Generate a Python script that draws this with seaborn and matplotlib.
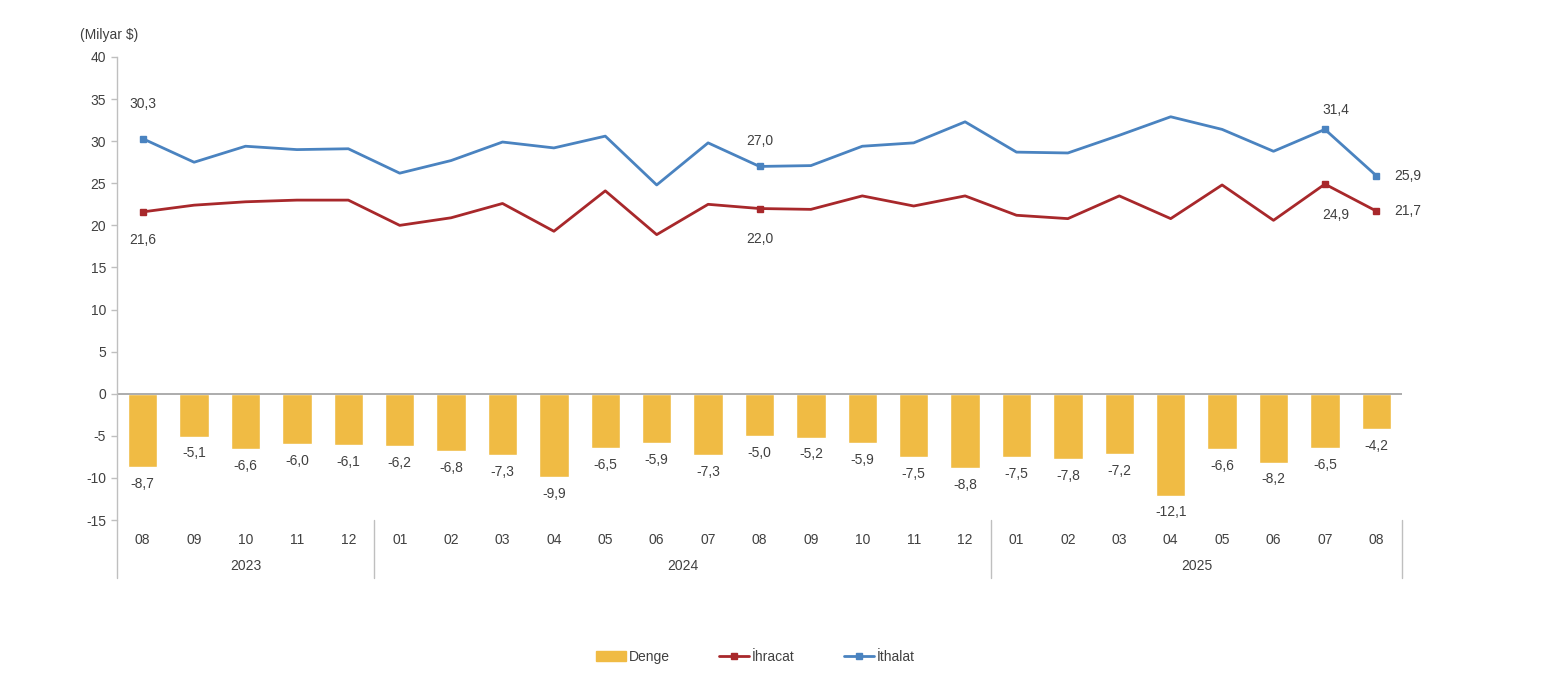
import matplotlib
matplotlib.use("Agg")
import matplotlib.pyplot as plt
from matplotlib.lines import Line2D
from matplotlib.patches import Patch
import numpy as np
import pandas as pd
import seaborn as sns

# data (Milyar $)
months = ["08", "09", "10", "11", "12",
          "01", "02", "03", "04", "05", "06", "07", "08", "09", "10", "11", "12",
          "01", "02", "03", "04", "05", "06", "07", "08"]
years = ["2023"] * 5 + ["2024"] * 12 + ["2025"] * 8
denge = [-8.7, -5.1, -6.6, -6.0, -6.1,
         -6.2, -6.8, -7.3, -9.9, -6.5, -5.9, -7.3, -5.0, -5.2, -5.9, -7.5, -8.8,
         -7.5, -7.8, -7.2, -12.1, -6.6, -8.2, -6.5, -4.2]
ihracat = [21.6, 22.4, 22.8, 23.0, 23.0,
           20.0, 20.9, 22.6, 19.3, 24.1, 18.9, 22.5, 22.0, 21.9, 23.5, 22.3, 23.5,
           21.2, 20.8, 23.5, 20.8, 24.8, 20.6, 24.9, 21.7]
ithalat = [30.3, 27.5, 29.4, 29.0, 29.1,
           26.2, 27.7, 29.9, 29.2, 30.6, 24.8, 29.8, 27.0, 27.1, 29.4, 29.8, 32.3,
           28.7, 28.6, 30.7, 32.9, 31.4, 28.8, 31.4, 25.9]
# points that carry a marker + value label
labelled = [0, 12, 23, 24]

df = pd.DataFrame({"pos": np.arange(len(months)), "ay": months, "yil": years,
                   "denge": denge, "ihracat": ihracat, "ithalat": ithalat})

sns.set_style("white")
plt.rcParams["font.family"] = ["Liberation Sans Narrow", "Liberation Sans", "DejaVu Sans"]
plt.rcParams["font.size"] = 10
plt.rcParams["axes.unicode_minus"] = False

GOLD = "#F0BB44"
RED = "#A8282B"
BLUE = "#4A83C0"
TXT = "#404040"

fig = plt.figure(figsize=(15.48, 6.92), dpi=100)
ax = fig.add_axes([117 / 1548, 1 - 520 / 692, (1402 - 117) / 1548, (520 - 57) / 692])

sns.barplot(data=df, x="pos", y="denge", native_scale=True, width=0.57,
            color=GOLD, saturation=1, ax=ax)
sns.lineplot(data=df, x="pos", y="ithalat", color=BLUE, lw=2, ax=ax)
sns.lineplot(data=df, x="pos", y="ihracat", color=RED, lw=2, ax=ax)

sub = df.iloc[labelled]
ax.plot(sub["pos"], sub["ithalat"], ls="none", marker="s", ms=5, color=BLUE)
ax.plot(sub["pos"], sub["ihracat"], ls="none", marker="s", ms=5, color=RED)

fmt = lambda v: f"{v:.1f}".replace(".", ",")

ax.bar_label(ax.containers[0], labels=[fmt(v) for v in denge], padding=7,
             color=TXT, fontsize=10)

# label offsets (points) for line values
off_ith = {0: (0, 25, "center"), 12: (0, 18, "center"), 23: (8, 14, "center"), 24: (13, 0, "left")}
off_ihr = {0: (0, -20, "center"), 12: (0, -22, "center"), 23: (8, -22, "center"), 24: (13, 0, "left")}
for i in labelled:
    dx, dy, ha = off_ith[i]
    ax.annotate(fmt(ithalat[i]), (i, ithalat[i]), xytext=(dx, dy), textcoords="offset points",
                ha=ha, va="center", color=TXT, fontsize=10)
    dx, dy, ha = off_ihr[i]
    ax.annotate(fmt(ihracat[i]), (i, ihracat[i]), xytext=(dx, dy), textcoords="offset points",
                ha=ha, va="center", color=TXT, fontsize=10)

ax.axhline(0, color="#A6A6A6", lw=1.3, zorder=1)

ax.set_xlim(-0.5, len(months) - 0.5)
ax.set_ylim(-15, 40)
ax.set_yticks(np.arange(-15, 41, 5))
ax.set_xticks(df["pos"])
ax.set_xticklabels(months)
ax.tick_params(axis="x", length=0, pad=9, labelsize=10, labelcolor=TXT)
ax.tick_params(axis="y", length=4, width=1, color="#BFBFBF", labelsize=10,
               labelcolor=TXT, left=True, pad=4)
ax.set_xlabel("")
ax.set_ylabel("")
for s in ["top", "right", "bottom"]:
    ax.spines[s].set_visible(False)
ax.spines["left"].set_color("#BFBFBF")
ax.spines["left"].set_linewidth(1)

# year separators + year labels
trans = ax.get_xaxis_transform()
starts = [0] + [i for i in range(1, len(years)) if years[i] != years[i - 1]] + [len(years)]
for s in starts:
    ax.plot([s - 0.5, s - 0.5], [0, -0.125], transform=trans, color="#BFBFBF",
            lw=1, clip_on=False)
for a, b in zip(starts[:-1], starts[1:]):
    ax.text((a + b - 1) / 2, -0.1, years[a], transform=trans, ha="center",
            va="center", color=TXT, fontsize=10)

fig.text(80 / 1548, 1 - 35 / 692, "(Milyar $)", ha="left", va="center",
         color=TXT, fontsize=10)

handles = [Patch(color=GOLD),
           Line2D([], [], color=RED, lw=2, marker="s", ms=4),
           Line2D([], [], color=BLUE, lw=2, marker="s", ms=4)]
fig.legend(handles, ["Denge", "İhracat", "İthalat"], loc="center",
           bbox_to_anchor=(0.488, 1 - 657 / 692), ncol=3, frameon=False,
           columnspacing=3.5, handlelength=2.2, handletextpad=0.2,
           labelcolor=TXT, fontsize=10)

fig.savefig("out.png", dpi=100, facecolor="white")
